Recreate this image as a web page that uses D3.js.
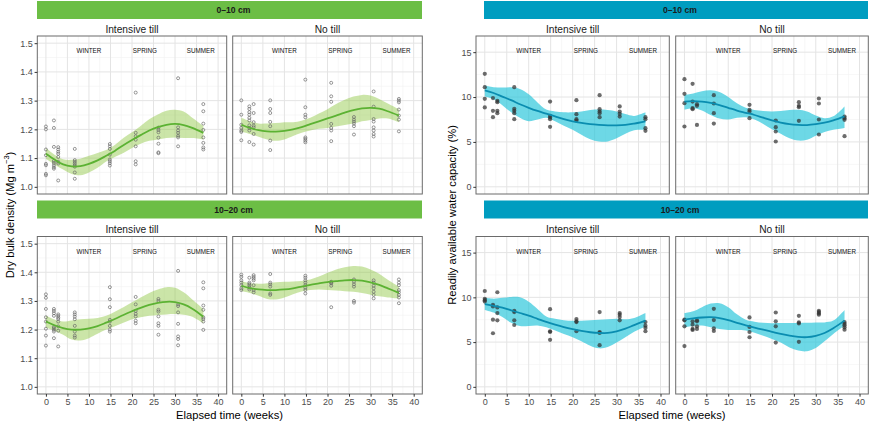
<!DOCTYPE html>
<html><head><meta charset="utf-8">
<script src="https://cdn.jsdelivr.net/npm/d3@7"></script>
<style>body{margin:0;background:#fff} svg{display:block;font-family:"Liberation Sans",Arial,sans-serif}</style>
</head><body><svg id="c" width="870" height="422"></svg>
<script>
// ---------------- DATA ----------------
const weeks = [0, 1.86, 2.86, 6.71, 14.86, 20.86, 26.14, 30.71, 36.57];
const xTicks = [0, 5, 10, 15, 20, 25, 30, 35, 40];
const bdTicks = [1.0, 1.1, 1.2, 1.3, 1.4, 1.5];
const rawTicks = [0, 5, 10, 15];
const seasons = ["WINTER", "SPRING", "SUMMER"];
const seasonWeeks = [10, 23, 36];
const depths = ["0\u201310 cm", "10\u201320 cm"];
const tillages = ["Intensive till", "No till"];
const fitWeeks = [0, 2, 4, 6, 8, 10, 12, 14, 16, 18, 20, 22, 24, 26, 28, 30, 32, 34, 36.57];

// Dry bulk density, 0-10 cm, intensive till (one list per sampling week)
const bdIT010 = [
  [1.21, 1.20, 1.13, 1.11, 1.08, 1.075, 1.045, 1.04],
  [1.231, 1.205, 1.139, 1.09, 1.083, 1.075, 1.068, 1.063],
  [1.138, 1.13, 1.122, 1.115, 1.104, 1.087, 1.081, 1.022],
  [1.132, 1.093, 1.087, 1.081, 1.075, 1.07, 1.05, 1.028],
  [1.149, 1.141, 1.132, 1.112, 1.095, 1.089, 1.082, 1.074],
  [1.328, 1.188, 1.176, 1.164, 1.141, 1.089, 1.078],
  [1.206, 1.198, 1.19, 1.171, 1.15, 1.12, 1.117],
  [1.378, 1.207, 1.196, 1.188, 1.178, 1.172, 1.141],
  [1.288, 1.263, 1.22, 1.198, 1.172, 1.153, 1.137, 1.13]
];
const bdIT010Fit = [1.115, 1.095, 1.078, 1.071, 1.072, 1.080, 1.092, 1.108, 1.125, 1.145, 1.163, 1.180, 1.196, 1.208, 1.216, 1.219, 1.215, 1.205, 1.188];
const bdIT010Lo  = [1.098, 1.078, 1.060, 1.045, 1.040, 1.050, 1.066, 1.088, 1.104, 1.118, 1.135, 1.150, 1.160, 1.165, 1.170, 1.172, 1.170, 1.170, 1.165];
const bdIT010Hi  = [1.135, 1.112, 1.096, 1.094, 1.098, 1.108, 1.118, 1.128, 1.146, 1.170, 1.190, 1.212, 1.235, 1.252, 1.265, 1.268, 1.262, 1.240, 1.212];

// Dry bulk density, 0-10 cm, no till
const bdNT010 = [
  [1.301, 1.251, 1.216, 1.205, 1.196, 1.191, 1.162],
  [1.28, 1.271, 1.26, 1.251, 1.24, 1.231, 1.214, 1.205, 1.196, 1.156],
  [1.288, 1.257, 1.225, 1.213, 1.207, 1.184, 1.147],
  [1.301, 1.271, 1.257, 1.226, 1.211, 1.161, 1.128],
  [1.373, 1.277, 1.251, 1.242, 1.172, 1.167, 1.161, 1.155],
  [1.362, 1.315, 1.296, 1.219, 1.205, 1.196, 1.159],
  [1.243, 1.234, 1.227, 1.22, 1.211, 1.182],
  [1.332, 1.279, 1.236, 1.227, 1.207, 1.196, 1.184, 1.175],
  [1.306, 1.30, 1.294, 1.269, 1.248, 1.234, 1.193]
];
const bdNT010Fit = [1.216, 1.205, 1.197, 1.193, 1.192, 1.195, 1.200, 1.208, 1.218, 1.228, 1.238, 1.248, 1.258, 1.267, 1.273, 1.275, 1.272, 1.263, 1.248];
const bdNT010Lo  = [1.193, 1.184, 1.174, 1.165, 1.160, 1.165, 1.177, 1.188, 1.196, 1.202, 1.205, 1.210, 1.215, 1.220, 1.228, 1.233, 1.238, 1.238, 1.225];
const bdNT010Hi  = [1.240, 1.228, 1.220, 1.220, 1.222, 1.225, 1.225, 1.230, 1.240, 1.255, 1.270, 1.288, 1.303, 1.314, 1.320, 1.318, 1.306, 1.290, 1.270];

// Dry bulk density, 10-20 cm, intensive till
const bdIT1020 = [
  [1.323, 1.311, 1.272, 1.243, 1.228, 1.203, 1.179, 1.144],
  [1.272, 1.265, 1.257, 1.248, 1.21, 1.205, 1.199, 1.193, 1.17],
  [1.253, 1.248, 1.242, 1.237, 1.228, 1.211, 1.196, 1.141],
  [1.26, 1.253, 1.245, 1.236, 1.213, 1.193, 1.179, 1.172],
  [1.348, 1.306, 1.278, 1.234, 1.228, 1.213, 1.20, 1.193],
  [1.314, 1.288, 1.265, 1.255, 1.246, 1.231, 1.222],
  [1.307, 1.30, 1.269, 1.263, 1.246, 1.222, 1.213, 1.182],
  [1.405, 1.288, 1.282, 1.26, 1.22, 1.176, 1.167, 1.145],
  [1.365, 1.344, 1.284, 1.269, 1.243, 1.237, 1.228, 1.199]
];
const bdIT1020Fit = [1.228, 1.215, 1.205, 1.200, 1.200, 1.204, 1.212, 1.224, 1.237, 1.251, 1.264, 1.276, 1.286, 1.293, 1.297, 1.296, 1.288, 1.273, 1.245];
const bdIT1020Lo  = [1.207, 1.196, 1.182, 1.165, 1.162, 1.170, 1.185, 1.200, 1.212, 1.224, 1.236, 1.243, 1.248, 1.251, 1.253, 1.254, 1.252, 1.245, 1.222];
const bdIT1020Hi  = [1.249, 1.235, 1.228, 1.232, 1.236, 1.238, 1.240, 1.248, 1.262, 1.278, 1.295, 1.312, 1.328, 1.340, 1.348, 1.346, 1.330, 1.305, 1.272];

// Dry bulk density, 10-20 cm, no till
const bdNT1020 = [
  [1.392, 1.384, 1.372, 1.364, 1.355, 1.344, 1.338],
  [1.381, 1.364, 1.359, 1.353, 1.346, 1.34],
  [1.39, 1.384, 1.378, 1.372, 1.355, 1.338, 1.33],
  [1.394, 1.364, 1.358, 1.35, 1.326, 1.321],
  [1.388, 1.381, 1.372, 1.364, 1.355, 1.346, 1.338, 1.326],
  [1.367, 1.364, 1.361, 1.353, 1.278],
  [1.375, 1.367, 1.358, 1.35, 1.30, 1.294],
  [1.372, 1.364, 1.353, 1.344, 1.332, 1.321, 1.309],
  [1.375, 1.364, 1.355, 1.338, 1.33, 1.321, 1.312, 1.292]
];
const bdNT1020Fit = [1.353, 1.345, 1.340, 1.338, 1.338, 1.340, 1.344, 1.350, 1.356, 1.361, 1.366, 1.369, 1.372, 1.373, 1.371, 1.365, 1.356, 1.344, 1.328];
const bdNT1020Lo  = [1.335, 1.328, 1.318, 1.307, 1.305, 1.312, 1.323, 1.333, 1.338, 1.340, 1.338, 1.336, 1.334, 1.332, 1.328, 1.322, 1.316, 1.312, 1.308];
const bdNT1020Hi  = [1.370, 1.362, 1.360, 1.362, 1.365, 1.367, 1.368, 1.370, 1.375, 1.385, 1.398, 1.410, 1.418, 1.422, 1.420, 1.410, 1.395, 1.374, 1.350];

// Readily available water capacity (%), 0-10 cm, intensive till
const rawIT010 = [
  [12.59, 11.10, 9.80, 8.84],
  [9.88, 8.46, 7.76],
  [9.58, 9.43, 8.46, 8.20],
  [11.10, 8.69, 8.46, 8.20, 7.54],
  [9.50, 7.91, 7.72, 7.54, 6.68],
  [9.65, 8.09, 7.54, 7.39],
  [10.21, 8.65, 8.39, 8.20, 7.76],
  [8.95, 8.39, 8.13, 7.83],
  [7.76, 7.54, 6.53, 6.24]
];
const rawIT010Fit = [10.75, 10.45, 10.05, 9.65, 9.20, 8.80, 8.45, 8.15, 7.85, 7.55, 7.30, 7.12, 6.98, 6.90, 6.85, 6.85, 6.90, 7.05, 7.30];
const rawIT010Lo  = [10.05, 9.75, 9.10, 8.30, 7.70, 7.30, 7.50, 7.70, 7.30, 6.80, 6.35, 5.80, 5.30, 5.05, 5.05, 5.40, 5.90, 6.30, 6.35];
const rawIT010Hi  = [11.30, 11.10, 11.05, 11.10, 10.90, 10.30, 9.40, 8.60, 8.40, 8.30, 8.30, 8.40, 8.55, 8.60, 8.55, 8.40, 8.10, 7.90, 8.30];

// Readily available water capacity (%), 0-10 cm, no till
const rawNT010 = [
  [11.99, 10.36, 9.32, 6.72],
  [11.47, 9.50, 8.76, 8.65],
  [9.21, 9.02, 6.90],
  [10.21, 9.28, 8.20, 7.05],
  [9.13, 8.58, 8.39, 7.65],
  [7.39, 6.64, 6.16, 5.05],
  [9.43, 9.02, 8.87, 7.35],
  [9.84, 9.28, 7.50, 5.83],
  [7.83, 7.65, 7.46, 5.64]
];
const rawNT010Fit = [9.50, 9.55, 9.50, 9.35, 9.10, 8.80, 8.50, 8.25, 8.00, 7.70, 7.40, 7.15, 6.98, 6.90, 6.88, 6.98, 7.15, 7.40, 7.85];
const rawNT010Lo  = [8.60, 8.75, 8.50, 8.00, 7.60, 7.50, 7.70, 7.75, 7.50, 7.00, 6.40, 5.90, 5.40, 5.15, 5.25, 5.70, 6.10, 6.35, 6.55];
const rawNT010Hi  = [10.25, 10.40, 10.65, 10.75, 10.55, 10.00, 9.30, 8.80, 8.55, 8.45, 8.40, 8.45, 8.55, 8.58, 8.40, 7.95, 7.65, 7.85, 8.95];

// Readily available water capacity (%), 10-20 cm, intensive till
const rawIT1020 = [
  [10.71, 9.83, 9.68, 9.53],
  [9.16, 8.98, 7.50, 5.99],
  [10.57, 8.87, 8.24, 7.43],
  [8.50, 8.35, 7.43, 6.91],
  [8.68, 6.21, 6.13, 5.25],
  [7.57, 7.32, 7.24, 6.21],
  [8.35, 6.13, 6.02, 4.66],
  [8.24, 8.06, 7.80, 7.43],
  [7.24, 6.84, 6.58, 6.21]
];
const rawIT1020Fit = [9.25, 9.05, 8.85, 8.55, 8.25, 7.95, 7.60, 7.25, 6.95, 6.68, 6.45, 6.25, 6.10, 6.02, 6.02, 6.20, 6.50, 6.90, 7.40];
const rawIT1020Lo  = [8.60, 8.30, 7.80, 7.15, 6.80, 6.80, 6.85, 6.65, 6.30, 5.90, 5.55, 5.10, 4.60, 4.30, 4.45, 4.95, 5.55, 6.15, 6.75];
const rawIT1020Hi  = [9.95, 9.85, 9.95, 10.05, 10.00, 9.50, 8.70, 7.85, 7.60, 7.45, 7.38, 7.38, 7.45, 7.50, 7.55, 7.60, 7.55, 7.70, 8.25];

// Readily available water capacity (%), 10-20 cm, no till
const rawNT1020 = [
  [7.50, 7.43, 6.76, 4.55],
  [7.32, 6.95, 6.47, 6.36],
  [7.43, 7.32, 6.76, 6.47],
  [8.72, 7.46, 6.54, 6.24],
  [7.76, 6.69, 6.13, 5.54],
  [8.31, 7.32, 6.76, 4.95],
  [7.94, 7.21, 7.09, 5.03],
  [8.50, 8.35, 8.20, 8.06],
  [7.24, 7.06, 6.87, 6.65, 6.39]
];
const rawNT1020Fit = [7.50, 7.65, 7.75, 7.78, 7.68, 7.45, 7.15, 6.88, 6.62, 6.38, 6.15, 5.92, 5.72, 5.58, 5.55, 5.70, 6.02, 6.55, 7.40];
const rawNT1020Lo  = [6.65, 6.80, 6.85, 6.65, 6.45, 6.35, 6.35, 6.30, 6.05, 5.70, 5.35, 4.95, 4.40, 4.05, 3.98, 4.35, 5.10, 5.90, 6.85];
const rawNT1020Hi  = [8.25, 8.45, 8.90, 9.30, 9.35, 8.90, 8.10, 7.50, 7.28, 7.15, 7.12, 7.13, 7.13, 7.13, 7.15, 7.20, 7.20, 7.40, 8.60];

// ---------------- DRAWING ----------------
const svg = d3.select("#c");
const GREEN = {strip: "#6cbe45", fill: "#8cc63f", fillOp: 0.45, line: "#5cb233"};
const TEAL = {strip: "#009dc0", fill: "#1fc3d8", fillOp: 0.65, line: "#0a8db0"};

const cols = {
  bdIT: [37.3, 226.7], bdNT: [232.7, 422.3],
  rawIT: [476, 669.3], rawNT: [675.7, 868.3]
};
const rows = [[36, 194], [236.5, 394]];

const panels = [
  {pts: bdIT010, fit: bdIT010Fit, lo: bdIT010Lo, hi: bdIT010Hi, col: cols.bdIT, row: 0, kind: "bd", t: 0},
  {pts: bdNT010, fit: bdNT010Fit, lo: bdNT010Lo, hi: bdNT010Hi, col: cols.bdNT, row: 0, kind: "bd", t: 1},
  {pts: bdIT1020, fit: bdIT1020Fit, lo: bdIT1020Lo, hi: bdIT1020Hi, col: cols.bdIT, row: 1, kind: "bd", t: 0},
  {pts: bdNT1020, fit: bdNT1020Fit, lo: bdNT1020Lo, hi: bdNT1020Hi, col: cols.bdNT, row: 1, kind: "bd", t: 1},
  {pts: rawIT010, fit: rawIT010Fit, lo: rawIT010Lo, hi: rawIT010Hi, col: cols.rawIT, row: 0, kind: "raw", t: 0},
  {pts: rawNT010, fit: rawNT010Fit, lo: rawNT010Lo, hi: rawNT010Hi, col: cols.rawNT, row: 0, kind: "raw", t: 1},
  {pts: rawIT1020, fit: rawIT1020Fit, lo: rawIT1020Lo, hi: rawIT1020Hi, col: cols.rawIT, row: 1, kind: "raw", t: 0},
  {pts: rawNT1020, fit: rawNT1020Fit, lo: rawNT1020Lo, hi: rawNT1020Hi, col: cols.rawNT, row: 1, kind: "raw", t: 1}
];

// strips
const strips = [
  {x0: 37, x1: 422, pal: GREEN}, {x0: 484, x1: 868, pal: TEAL}
];
strips.forEach(s => {
  rows.forEach((r, i) => {
    const top = i === 0 ? 1 : 200.5;
    svg.append("rect").attr("x", s.x0).attr("y", top).attr("width", s.x1 - s.x0).attr("height", 18)
      .attr("fill", s.pal.strip);
    svg.append("text").attr("x", (s.x0 + s.x1) / 2 + 4).attr("y", top + 12.3)
      .attr("text-anchor", "middle").attr("font-size", 8.6).attr("font-weight", "bold")
      .attr("fill", "#1a1a1a").text(depths[i]);
  });
});

panels.forEach(p => {
  const [x0, x1] = p.col, [y0, y1] = rows[p.row];
  const pal = p.kind === "bd" ? GREEN : TEAL;
  const xs = d3.scaleLinear().domain([-2, 42]).range([x0, x1]);
  const ys = d3.scaleLinear().domain(p.kind === "bd" ? [0.975, 1.525] : [-0.8, 16.8]).range([y1, y0]);
  const g = svg.append("g");

  // grid
  const xMinor = d3.range(2.5, 42, 5);
  const yMinor = p.kind === "bd" ? d3.range(1.05, 1.5, 0.1) : [2.5, 7.5, 12.5];
  const yMajor = p.kind === "bd" ? bdTicks : rawTicks;
  xMinor.forEach(v => g.append("line").attr("x1", xs(v)).attr("x2", xs(v)).attr("y1", y0).attr("y2", y1)
    .attr("stroke", "#f2f2f2").attr("stroke-width", 0.6));
  yMinor.forEach(v => g.append("line").attr("x1", x0).attr("x2", x1).attr("y1", ys(v)).attr("y2", ys(v))
    .attr("stroke", "#f2f2f2").attr("stroke-width", 0.6));
  xTicks.forEach(v => g.append("line").attr("x1", xs(v)).attr("x2", xs(v)).attr("y1", y0).attr("y2", y1)
    .attr("stroke", "#e4e4e4").attr("stroke-width", 1));
  yMajor.forEach(v => g.append("line").attr("x1", x0).attr("x2", x1).attr("y1", ys(v)).attr("y2", ys(v))
    .attr("stroke", "#e4e4e4").attr("stroke-width", 1));

  // ribbon
  const fitData = fitWeeks.map((w, i) => ({w, f: p.fit[i], lo: p.lo[i], hi: p.hi[i]}));
  g.append("path").datum(fitData)
    .attr("d", d3.area().x(d => xs(d.w)).y0(d => ys(d.lo)).y1(d => ys(d.hi)).curve(d3.curveCatmullRom))
    .attr("fill", pal.fill).attr("fill-opacity", pal.fillOp);

  // points
  const pts = [];
  p.pts.forEach((arr, i) => arr.forEach(v => pts.push({w: weeks[i], v})));
  if (p.kind === "bd") {
    g.selectAll(null).data(pts).join("circle")
      .attr("cx", d => xs(d.w)).attr("cy", d => ys(d.v)).attr("r", 1.5)
      .attr("fill", "none").attr("stroke", "#666").attr("stroke-opacity", 0.85).attr("stroke-width", 0.8);
  } else {
    g.selectAll(null).data(pts).join("circle")
      .attr("cx", d => xs(d.w)).attr("cy", d => ys(d.v)).attr("r", 2.1)
      .attr("fill", "#333").attr("fill-opacity", 0.72);
  }

  // fit line
  g.append("path").datum(fitData)
    .attr("d", d3.line().x(d => xs(d.w)).y(d => ys(d.f)).curve(d3.curveCatmullRom))
    .attr("fill", "none").attr("stroke", pal.line).attr("stroke-width", 1.8);

  // season labels
  seasons.forEach((s, i) => g.append("text").attr("x", xs(seasonWeeks[i])).attr("y", y0 + 17.3)
    .attr("text-anchor", "middle").attr("font-size", 6.3).attr("fill", "#111").text(s));

  // border
  g.append("rect").attr("x", x0).attr("y", y0).attr("width", x1 - x0).attr("height", y1 - y0)
    .attr("fill", "none").attr("stroke", "#6b6b6b").attr("stroke-width", 1);

  // panel title
  svg.append("text").attr("x", (x0 + x1) / 2).attr("y", y0 - 3.5).attr("text-anchor", "middle")
    .attr("font-size", 10.2).attr("fill", "#1a1a1a").text(tillages[p.t]);

  // axes
  if (p.t === 0) {
    const ax = svg.append("g").attr("transform", `translate(${x0},0)`)
      .call(d3.axisLeft(ys).tickValues(yMajor).tickSize(2.7).tickPadding(1.8)
        .tickFormat(p.kind === "bd" ? d3.format(".1f") : d3.format("d")));
    ax.select(".domain").remove();
    ax.selectAll("line").attr("stroke", "#333");
    ax.selectAll("text").attr("fill", "#4d4d4d").attr("font-size", 9).attr("font-family", "Liberation Sans, Arial, sans-serif");
  }
  if (p.row === 1) {
    const ax = svg.append("g").attr("transform", `translate(0,${y1})`)
      .call(d3.axisBottom(xs).tickValues(xTicks).tickSize(2.7).tickPadding(1.5));
    ax.select(".domain").remove();
    ax.selectAll("line").attr("stroke", "#333");
    ax.selectAll("text").attr("fill", "#4d4d4d").attr("font-size", 9).attr("font-family", "Liberation Sans, Arial, sans-serif");
  }
});

// axis titles
svg.append("text").attr("x", 229.5).attr("y", 418.5).attr("text-anchor", "middle")
  .attr("font-size", 11.2).attr("fill", "#000").text("Elapsed time (weeks)");
svg.append("text").attr("x", 672).attr("y", 418.5).attr("text-anchor", "middle")
  .attr("font-size", 11.2).attr("fill", "#000").text("Elapsed time (weeks)");

const yt1 = svg.append("text").attr("transform", "translate(13.5,215) rotate(-90)").attr("text-anchor", "middle")
  .attr("font-size", 11.2).attr("fill", "#000");
yt1.append("tspan").text("Dry bulk density (Mg m");
yt1.append("tspan").attr("font-size", 7.5).attr("dy", -4.5).text("\u22123");
yt1.append("tspan").attr("dy", 4.5).text(")");

svg.append("text").attr("transform", "translate(456,215) rotate(-90)").attr("text-anchor", "middle")
  .attr("font-size", 11.2).attr("fill", "#000").text("Readily available water capacity (%)");
</script>
</body></html>
